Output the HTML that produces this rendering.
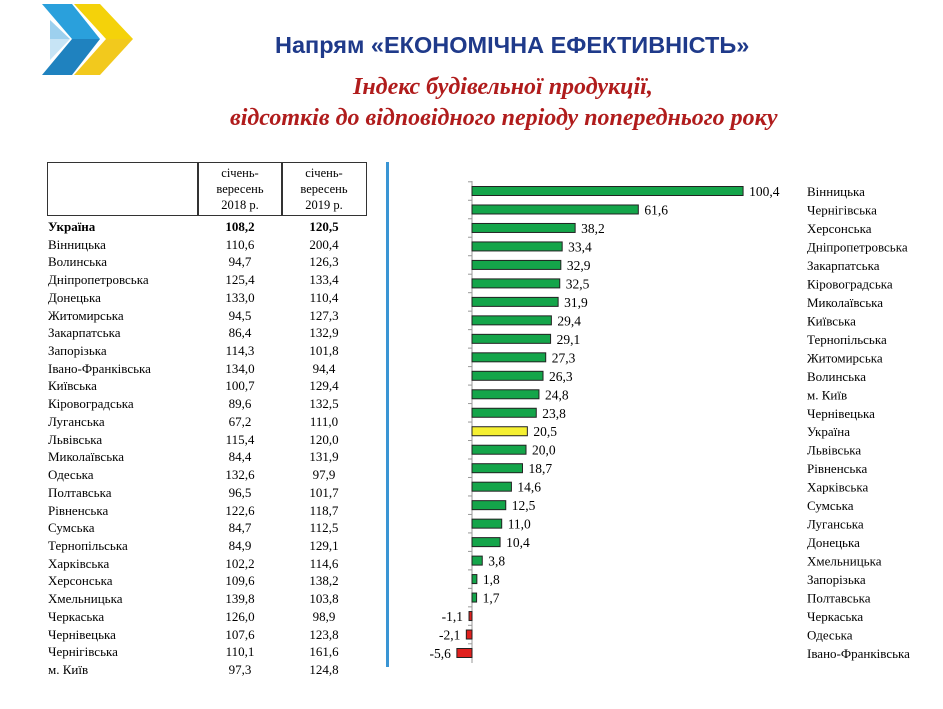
<!DOCTYPE html>
<html><head><meta charset="utf-8"><style>
body{margin:0;width:943px;height:709px;background:#fff;position:relative;overflow:hidden;font-family:"Liberation Serif",serif}
.t{position:absolute;white-space:nowrap}
</style></head><body>
<svg style="position:absolute;left:0;top:0" width="140" height="80">
<polygon points="42,4 72,4 100,39 72,39" fill="#2aa0dc"/>
<polygon points="50,20 70,39 50,39" fill="#9dd0ee"/>
<polygon points="72,39 100,39 72,75 42,75" fill="#1f82bf"/>
<polygon points="50,39 70,39 50,60" fill="#c7e4f5"/>
<polygon points="74,4 100,4 133,39 106,39" fill="#f4d20a"/>
<polygon points="106,39 133,39 100,75 74,75" fill="#f2c91d"/>
</svg>
<div class="t" style="left:275px;top:32px;font:bold 23.5px 'Liberation Sans',sans-serif;color:#1f3a8a">Напрям «ЕКОНОМІЧНА ЕФЕКТИВНІСТЬ»</div>
<div class="t" style="left:353px;top:74px;font:italic bold 24px 'Liberation Serif',serif;color:#b01c1c">Індекс будівельної продукції,</div>
<div class="t" style="left:230px;top:105px;font:italic bold 24px 'Liberation Serif',serif;color:#b01c1c">відсотків до відповідного періоду попереднього року</div>
<div style="position:absolute;left:386px;top:162px;width:3px;height:505px;background:#3a95d4"></div>
<div id="tbl"></div>
<svg id="ch" style="position:absolute;left:0;top:0" width="943" height="709"></svg>
<script>
var tb=[["Україна","108,2","120,5"],["Вінницька","110,6","200,4"],["Волинська","94,7","126,3"],["Дніпропетровська","125,4","133,4"],["Донецька","133,0","110,4"],["Житомирська","94,5","127,3"],["Закарпатська","86,4","132,9"],["Запорізька","114,3","101,8"],["Івано-Франківська","134,0","94,4"],["Київська","100,7","129,4"],["Кіровоградська","89,6","132,5"],["Луганська","67,2","111,0"],["Львівська","115,4","120,0"],["Миколаївська","84,4","131,9"],["Одеська","132,6","97,9"],["Полтавська","96,5","101,7"],["Рівненська","122,6","118,7"],["Сумська","84,7","112,5"],["Тернопільська","84,9","129,1"],["Харківська","102,2","114,6"],["Херсонська","109,6","138,2"],["Хмельницька","139,8","103,8"],["Черкаська","126,0","98,9"],["Чернівецька","107,6","123,8"],["Чернігівська","110,1","161,6"],["м. Київ","97,3","124,8"]];
var h='<div style="position:absolute;left:47px;top:162px;width:318px;height:52px;border:1.5px solid #333"></div><div style="position:absolute;left:197px;top:162px;width:1.5px;height:54px;background:#333"></div><div style="position:absolute;left:281px;top:162px;width:1.5px;height:54px;background:#333"></div>';
h+='<div class="t" style="left:198px;width:84px;text-align:center;top:165px;font-size:12.5px;line-height:16px">січень-<br>вересень<br>2018 р.</div><div class="t" style="left:282px;width:84px;text-align:center;top:165px;font-size:12.5px;line-height:16px">січень-<br>вересень<br>2019 р.</div>';
tb.forEach(function(r,i){var y=219+i*17.72,b=i==0?'font-weight:bold;':'';
h+='<div class="t" style="'+b+'left:48px;top:'+y+'px;font-size:13px">'+r[0]+'</div><div class="t" style="'+b+'left:198px;width:84px;text-align:center;top:'+y+'px;font-size:13px">'+r[1]+'</div><div class="t" style="'+b+'left:282px;width:84px;text-align:center;top:'+y+'px;font-size:13px">'+r[2]+'</div>';});
document.getElementById('tbl').innerHTML=h;
var d=[["Вінницька",100.4],["Чернігівська",61.6],["Херсонська",38.2],["Дніпропетровська",33.4],["Закарпатська",32.9],["Кіровоградська",32.5],["Миколаївська",31.9],["Київська",29.4],["Тернопільська",29.1],["Житомирська",27.3],["Волинська",26.3],["м. Київ",24.8],["Чернівецька",23.8],["Україна",20.5],["Львівська",20.0],["Рівненська",18.7],["Харківська",14.6],["Сумська",12.5],["Луганська",11.0],["Донецька",10.4],["Хмельницька",3.8],["Запорізька",1.8],["Полтавська",1.7],["Черкаська",-1.1],["Одеська",-2.1],["Івано-Франківська",-5.6]];
var x0=472,k=2.7,s='<line x1="'+x0+'" y1="181" x2="'+x0+'" y2="663" stroke="#999"/>';
d.forEach(function(r,i){var y=191+i*18.48,v=r[1],w=Math.abs(v)*k,x=v<0?x0-w:x0;
var c=v<0?'#e0201e':(r[0]=="Україна"?'#f5f032':'#14a54a');
s+='<line x1="'+(x0-4)+'" y1="'+(y-9.2)+'" x2="'+x0+'" y2="'+(y-9.2)+'" stroke="#999"/>';
s+='<rect x="'+x+'" y="'+(y-4.5)+'" width="'+Math.max(w,2)+'" height="9" fill="'+c+'" stroke="#222" stroke-width="1"/>';
var lab=v.toFixed(1).replace('.',',');
if(v<0)s+='<text x="'+(x-6)+'" y="'+(y+5)+'" text-anchor="end" font-size="13.5" font-family="Liberation Serif">'+lab+'</text>';
else s+='<text x="'+(x+w+6)+'" y="'+(y+5)+'" font-size="13.5" font-family="Liberation Serif">'+lab+'</text>';
s+='<text x="807" y="'+(y+5)+'" font-size="13" font-family="Liberation Serif">'+r[0]+'</text>';});
document.getElementById('ch').innerHTML=s;
</script>
</body></html>
